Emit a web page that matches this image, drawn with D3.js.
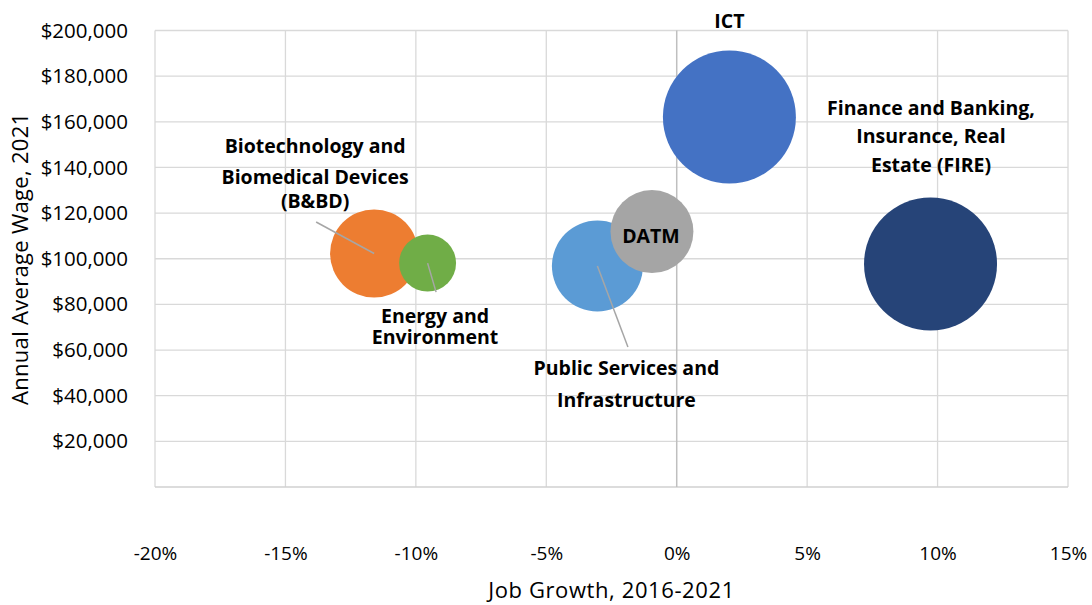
<!DOCTYPE html>
<html>
<head>
<meta charset="utf-8">
<script src="https://cdn.jsdelivr.net/npm/d3@7"></script>
<style>
  body { margin: 0; background: #fff; }
  svg text { font-family: "Open Sans", sans-serif; fill: #000; }
</style>
</head>
<body>
<div id="chart"></div>
<script>
// Sector bubbles: job growth 2016-2021, average wage 2021, employment (bubble size)
const sectors = ["B&BD", "Energy and Environment", "Public Services and Infrastructure", "DATM", "ICT", "FIRE"];
const jobGrowth = [-0.116, -0.0955, -0.0304, -0.0095, 0.0202, 0.0973];
const avgWage = [102300, 98100, 96800, 111900, 162100, 97700];
const employment = [19.4, 8.1, 20.7, 17.2, 44.2, 44.2];
const colors = ["#ED7D31", "#70AD47", "#5B9BD5", "#A5A5A5", "#4472C4", "#264478"];

const labelLines = [
  ["Biotechnology and", "Biomedical Devices", "(B&BD)"],
  ["Energy and", "Environment"],
  ["Public Services and", "Infrastructure"],
  ["DATM"],
  ["ICT"],
  ["Finance and Banking,", "Insurance, Real", "Estate (FIRE)"]
];

const xTicks = [-0.20, -0.15, -0.10, -0.05, 0, 0.05, 0.10, 0.15];
const yTicks = [20000, 40000, 60000, 80000, 100000, 120000, 140000, 160000, 180000, 200000];

// label placement, px offsets from bubble centre (baselines of each line) and leader end
const labelPos = [
  { dx: -59, dy: [-100.5, -69.5, -45.5], leader: [-58, -31.5] },
  { dx: 7.5, dy: [59.5, 80.5], leader: [8.5, 29] },
  { dx: 29, dy: [109, 141], leader: [30.5, 81] },
  { dx: -1, dy: [11.5], leader: null },
  { dx: 0, dy: [-89], leader: null },
  { dx: 0.5, dy: [-149, -121, -92], leader: null }
];

const width = 1092, height = 605;
const plot = { left: 155, right: 1068, top: 30.5, bottom: 487 };

const svg = d3.select("#chart").append("svg")
  .attr("width", width)
  .attr("height", height);

const x = d3.scaleLinear().domain([-0.20, 0.15]).range([plot.left, plot.right]);
const y = d3.scaleLinear().domain([0, 200000]).range([plot.bottom, plot.top]);
const r = d3.scaleSqrt().domain([0, d3.max(employment)]).range([0, 66.5]);

/** gridlines */
const grid = svg.append("g").attr("class", "grid");
grid.selectAll("line.h")
  .data(yTicks)
  .enter().append("line")
  .attr("x1", plot.left).attr("x2", plot.right)
  .attr("y1", d => y(d)).attr("y2", d => y(d))
  .attr("stroke", "#d9d9d9").attr("stroke-width", 1.3);
grid.selectAll("line.v")
  .data(xTicks.filter(d => d !== 0))
  .enter().append("line")
  .attr("x1", d => x(d)).attr("x2", d => x(d))
  .attr("y1", plot.top).attr("y2", plot.bottom)
  .attr("stroke", "#d9d9d9").attr("stroke-width", 1.3);

// axis lines (y axis crosses at 0%)
svg.append("line")
  .attr("x1", plot.left).attr("x2", plot.right)
  .attr("y1", y(0)).attr("y2", y(0))
  .attr("stroke", "#d0d0d0").attr("stroke-width", 1.5);
svg.append("line")
  .attr("x1", x(0)).attr("x2", x(0))
  .attr("y1", plot.top).attr("y2", plot.bottom)
  .attr("stroke", "#bfbfbf").attr("stroke-width", 1.5);

/** tick labels */
const yAxis = d3.axisLeft(y)
  .tickValues(yTicks)
  .tickSize(0)
  .tickPadding(0)
  .tickFormat(d3.format("$,"));
svg.append("g")
  .attr("transform", "translate(128,0)")
  .call(yAxis)
  .call(g => g.select(".domain").remove())
  .selectAll("text")
  .style("font-family", "Open Sans")
  .style("font-size", "20.5px")
  .attr("fill", "#000");

// Excel style: plain hyphen for negatives
const pct = d => d3.format(".0%")(d).replace("\u2212", "-");
const xAxis = d3.axisBottom(x)
  .tickValues(xTicks)
  .tickSize(0)
  .tickPadding(0)
  .tickFormat(pct);
svg.append("g")
  .attr("transform", "translate(0,546)")
  .call(xAxis)
  .call(g => g.select(".domain").remove())
  .selectAll("text")
  .style("font-family", "Open Sans")
  .style("font-size", "19px")
  .attr("fill", "#000");

/** axis titles */
svg.append("text")
  .attr("x", (plot.left + plot.right) / 2)
  .attr("y", 598)
  .attr("text-anchor", "middle")
  .style("font-size", "22px")
  .style("letter-spacing", "0.6px")
  .text("Job Growth, 2016-2021");
svg.append("text")
  .attr("transform", "translate(28," + ((plot.top + plot.bottom) / 2) + ") rotate(-90)")
  .attr("text-anchor", "middle")
  .style("font-size", "22px")
  .style("letter-spacing", "0.3px")
  .text("Annual Average Wage, 2021");

/** bubbles */
const data = sectors.map((s, i) => ({
  name: s, g: jobGrowth[i], w: avgWage[i], n: employment[i],
  color: colors[i], lines: labelLines[i], pos: labelPos[i]
}));

svg.append("g").attr("class", "bubbles")
  .selectAll("circle")
  .data(data)
  .enter().append("circle")
  .attr("cx", d => x(d.g))
  .attr("cy", d => y(d.w))
  .attr("r", d => r(d.n))
  .attr("fill", d => d.color);

/** leader lines */
svg.append("g").attr("class", "leaders")
  .selectAll("line")
  .data(data.filter(d => d.pos.leader))
  .enter().append("line")
  .attr("x1", d => x(d.g))
  .attr("y1", d => y(d.w))
  .attr("x2", d => x(d.g) + d.pos.leader[0])
  .attr("y2", d => y(d.w) + d.pos.leader[1])
  .attr("stroke", "#a6a6a6")
  .attr("stroke-width", 1.5);

/** data labels */
const labels = svg.append("g").attr("class", "labels")
  .selectAll("text")
  .data(data)
  .enter().append("text")
  .attr("text-anchor", "middle")
  .style("font-size", "19.5px")
  .style("font-weight", "bold");
labels.selectAll("tspan")
  .data(d => d.lines.map((t, j) => ({ t, x: x(d.g) + d.pos.dx, y: y(d.w) + d.pos.dy[j] })))
  .enter().append("tspan")
  .attr("x", d => d.x)
  .attr("y", d => d.y)
  .text(d => d.t);
</script>
</body>
</html>
